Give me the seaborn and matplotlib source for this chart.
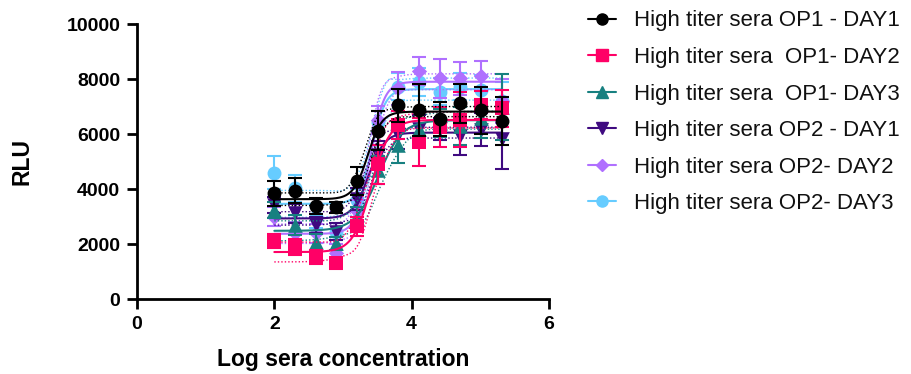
import numpy as np
import pandas as pd
import matplotlib
matplotlib.use("Agg")
import matplotlib.pyplot as plt
import seaborn as sns
from matplotlib.lines import Line2D

# ---------------- data ----------------
log_conc = [2.0, 2.301, 2.602, 2.903, 3.204, 3.505, 3.806, 4.107, 4.408, 4.709, 5.010, 5.311]

labels = ["High titer sera OP1 - DAY1", "High titer sera  OP1- DAY2", "High titer sera  OP1- DAY3",
          "High titer sera OP2 - DAY1", "High titer sera OP2- DAY2", "High titer sera OP2- DAY3"]
colors = ["#000000", "#FF0066", "#178080", "#3F0A80", "#B070FF", "#66CCFF"]
markers = ["o", "s", "^", "v", "D", "o"]

op1_day1 = [3840, 3940, 3390, 3330, 4290, 6120, 7050, 6860, 6545, 7115, 6860, 6470]
op1_day1_sd = [450, 450, 300, 200, 500, 700, 600, 950, 630, 720, 860, 870]
op1_day2 = [2110, 1900, 1540, 1300, 2650, 4900, 6330, 5720, 6270, 6510, 7050, 6930]
op1_day2_sd = [250, 300, 250, 200, 350, 700, 500, 880, 730, 1000, 500, 670]
op1_day3 = [3240, 2690, 2080, 2020, 2930, 4700, 5600, 6200, 6400, 6300, 6570, 7000]
op1_day3_sd = [300, 350, 300, 250, 400, 500, 640, 600, 500, 700, 700, 1200]
op2_day1 = [3420, 3120, 2690, 2450, 3640, 5240, 5960, 6200, 6200, 5930, 6150, 5810]
op2_day1_sd = [300, 350, 300, 300, 400, 500, 500, 500, 400, 700, 600, 1100]
op2_day2 = [2990, 2390, 2390, 1690, 3200, 6510, 7660, 8300, 8020, 8020, 8110, 7200]
op2_day2_sd = [350, 400, 350, 300, 400, 500, 600, 500, 700, 600, 550, 800]
op2_day3 = [4590, 4020, 2970, 2450, 3600, 6440, 7720, 7900, 7540, 7720, 7600, 7200]
op2_day3_sd = [600, 500, 400, 300, 400, 400, 500, 500, 500, 500, 550, 700]

means = [op1_day1, op1_day2, op1_day3, op2_day1, op2_day2, op2_day3]
sds = [op1_day1_sd, op1_day2_sd, op1_day3_sd, op2_day1_sd, op2_day2_sd, op2_day3_sd]


# ---------------- 4PL fit ----------------
def f4(p, x):
    b, t, c, h = p
    return b + (t - b) / (1 + 10 ** ((c - x) * h))


def jac(p, x):
    eps = 1e-5
    J = np.zeros((len(x), 4))
    for i in range(4):
        dp = np.zeros(4)
        dp[i] = eps * max(1.0, abs(p[i]))
        J[:, i] = (f4(p + dp, x) - f4(p - dp, x)) / (2 * dp[i])
    return J


def fit4(x, y):
    x = np.asarray(x, float)
    y = np.asarray(y, float)
    p = np.array([y[:4].mean(), y[-5:].mean(), 3.35, 3.0])
    lam = 1e-2
    cost = np.sum((y - f4(p, x)) ** 2)
    for _ in range(300):
        r = y - f4(p, x)
        J = jac(p, x)
        A = J.T @ J
        g = J.T @ r
        step = np.linalg.solve(A + lam * np.diag(np.diag(A) + 1e-9), g)
        pn = p + step
        pn[3] = np.clip(pn[3], 0.5, 4.5)
        cn = np.sum((y - f4(pn, x)) ** 2)
        if cn < cost:
            p, cost, lam = pn, cn, lam * 0.3
        else:
            lam *= 5
    J = jac(p, x)
    s2 = cost / max(len(x) - 4, 1)
    cov = s2 * np.linalg.pinv(J.T @ J)
    return p, cov


xs = np.linspace(2.0, 5.311, 200)

# ---------------- plot ----------------
sns.set_style("ticks")
plt.rcParams['font.family'] = ['Liberation Sans', 'DejaVu Sans']

fig = plt.figure(figsize=(9.11, 3.74), dpi=100)
ax = fig.add_axes([0.1504, 0.2005, 0.4522, 0.7353])

n = len(labels)
curve_rows = []
band_rows = []
for k in range(n):
    p, cov = fit4(log_conc, means[k])
    yc = f4(p, xs)
    J = jac(p, xs)
    se = np.sqrt(np.clip(np.einsum('ij,jk,ik->i', J, cov, J), 0, None))
    se = np.minimum(se, 450)
    for xv, yv, lo, hi in zip(xs, yc, yc - 1.5 * se, yc + 1.5 * se):
        curve_rows.append({"x": xv, "y": yv, "series": labels[k]})
        band_rows.append({"x": xv, "lo": lo, "hi": hi, "series": labels[k]})

curves = pd.DataFrame(curve_rows)
bands = pd.DataFrame(band_rows)

for k in range(n):
    z = 10 + (n - k) * 3
    sub = bands[bands.series == labels[k]]
    sns.lineplot(data=sub, x="x", y="lo", color=colors[k], lw=1.0, ls=(0, (1, 1.5)), ax=ax, zorder=z - 2,
                 legend=False, estimator=None)
    sns.lineplot(data=sub, x="x", y="hi", color=colors[k], lw=1.0, ls=(0, (1, 1.5)), ax=ax, zorder=z - 2,
                 legend=False, estimator=None)
    sns.lineplot(data=curves[curves.series == labels[k]], x="x", y="y", color=colors[k], lw=1.5,
                 ax=ax, zorder=z - 1, legend=False, estimator=None)
    ax.errorbar(log_conc, means[k], yerr=sds[k], fmt="none", ecolor=colors[k], elinewidth=1.5,
                capsize=5, capthick=1.5, zorder=z - 1)
    pts = pd.DataFrame({"x": log_conc, "y": means[k]})
    ms = 100 if markers[k] in ("o", "s") else (110 if markers[k] in ("^", "v") else 60)
    sns.scatterplot(data=pts, x="x", y="y", color=colors[k], marker=markers[k], s=ms, linewidth=0,
                    ax=ax, zorder=z, legend=False)

ax.set_xlim(0, 6)
ax.set_ylim(0, 10000)
ax.set_xticks([0, 2, 4, 6])
ax.set_yticks([0, 2000, 4000, 6000, 8000, 10000])
ax.set_xlabel("Log sera concentration", fontsize=16.5, fontweight="bold", labelpad=11, color="black")
ax.set_ylabel("RLU", fontsize=16.5, fontweight="bold", labelpad=24, color="black")
for lab in ax.get_xticklabels() + ax.get_yticklabels():
    lab.set_fontweight("bold")
    lab.set_fontsize(14)
ax.tick_params(width=2, length=7, direction="out", pad=5, color="black", labelcolor="black")
for s in ["left", "bottom"]:
    ax.spines[s].set_linewidth(2)
    ax.spines[s].set_color("black")
ax.spines["top"].set_visible(False)
ax.spines["right"].set_visible(False)

handles = []
for k in range(n):
    msz = 8 if markers[k] != "D" else 6
    handles.append(Line2D([0], [0], color=colors[k], marker=markers[k], markersize=msz, lw=1.5))
fig.legend(handles, labels, loc="upper left", bbox_to_anchor=(0.645, 0.972), frameon=False,
           fontsize=16, handlelength=1.3, handletextpad=0.8, labelspacing=0.7,
           borderpad=0, borderaxespad=0, labelcolor="#111111")

fig.savefig("out.png", dpi=100)
